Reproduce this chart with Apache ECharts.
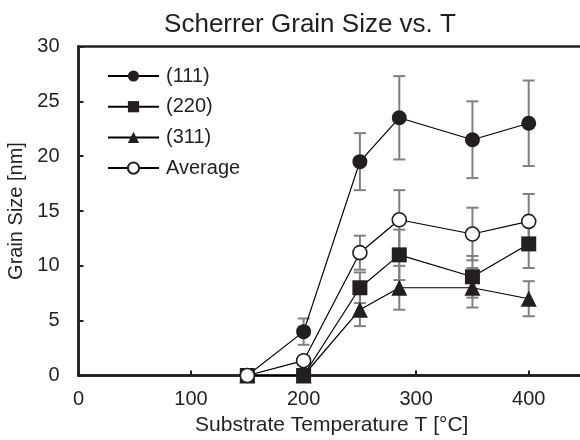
<!DOCTYPE html>
<html>
<head>
<meta charset="utf-8">
<script src="https://cdn.jsdelivr.net/npm/echarts@6/dist/echarts.min.js"></script>
<style>
  html, body { margin: 0; padding: 0; background: #fff; }
  #chart { width: 580px; height: 440px; }
</style>
</head>
<body>
<div id="chart"></div>
<script>
// Substrate temperatures (°C)
const temps = [150, 200, 250, 285, 350, 400];

// Scherrer grain sizes (nm) per reflection and their average
const size111 = [0, 4, 19.5, 23.5, 21.5, 23];
const size220 = [0, 0, 8, 11, 9, 12];
const size311 = [0, 0, 6, 8, 8, 7];
const sizeAvg = [0, 1.35, 11.2, 14.2, 12.9, 14.05];

// Standard deviations (nm)
const err111 = [0, 1.2, 2.6, 3.8, 3.5, 3.9];
const err220 = [0, 0, 1.4, 2.3, 1.9, 2.2];
const err311 = [0, 0, 1.5, 2.0, 1.8, 1.6];
const errAvg = [0, 0.4, 1.55, 2.7, 2.4, 2.5];

const seriesNames = ['(111)', '(220)', '(311)', 'Average'];

const font = 'Liberation Sans, Arial, sans-serif';
const ink = '#231f20';

function pairs(vals) {
  return temps.map((t, i) => [t, vals[i]]);
}
function errData(vals, errs) {
  return temps.map((t, i) => [t, vals[i] - errs[i], vals[i] + errs[i]]);
}

function errorSeries(vals, errs) {
  return {
    type: 'custom',
    silent: true,
    z: 1,
    data: errData(vals, errs),
    renderItem: function (params, api) {
      const x = api.value(0);
      const lo = api.coord([x, api.value(1)]);
      const hi = api.coord([x, api.value(2)]);
      if (Math.abs(hi[1] - lo[1]) < 0.5) return null;
      const w = 6;
      const style = { stroke: '#808080', lineWidth: 2 };
      return {
        type: 'group',
        children: [
          { type: 'line', shape: { x1: lo[0], y1: lo[1], x2: hi[0], y2: hi[1] }, style },
          { type: 'line', shape: { x1: lo[0] - w, y1: lo[1], x2: lo[0] + w, y2: lo[1] }, style },
          { type: 'line', shape: { x1: hi[0] - w, y1: hi[1], x2: hi[0] + w, y2: hi[1] }, style }
        ]
      };
    }
  };
}

function lineSeries(name, vals, symbol, size, fill) {
  return {
    name: name,
    type: 'line',
    z: 3,
    data: pairs(vals),
    symbol: symbol,
    symbolSize: size,
    showAllSymbol: true,
    lineStyle: { color: '#000', width: 1.2 },
    itemStyle: { color: fill, borderColor: ink, borderWidth: fill === '#fff' ? 1.6 : 0 },
    emphasis: { disabled: true }
  };
}

const chart = echarts.init(document.getElementById('chart'), null, { renderer: 'canvas' });

chart.setOption({
  animation: false,
  backgroundColor: '#fff',
  title: {
    text: 'Scherrer Grain Size vs. T',
    left: 305,
    textAlign: 'center',
    top: 7,
    textStyle: { fontFamily: font, fontSize: 26, fontWeight: 'normal', color: ink }
  },
  legend: {
    data: seriesNames,
    orient: 'vertical',
    left: 107,
    top: 66,
    padding: 0,
    itemWidth: 51,
    itemHeight: 14,
    itemGap: 10.7,
    textStyle: { fontFamily: font, fontSize: 20, color: ink, padding: [0, 0, 0, 2] }
  },
  grid: {
    left: 78.5,
    right: -5,
    top: 46.5,
    bottom: 64.5,
    outerBoundsMode: 'none',
    containLabel: false,
    show: true,
    borderColor: ink,
    borderWidth: 2.5,
    backgroundColor: 'transparent'
  },
  xAxis: {
    type: 'value',
    min: 0,
    max: 450,
    interval: 100,
    name: 'Substrate Temperature T [°C]',
    nameLocation: 'middle',
    nameGap: 37,
    nameTextStyle: { fontFamily: font, fontSize: 21, color: ink },
    axisLine: { show: true, lineStyle: { color: ink, width: 2.5 } },
    axisTick: { show: true, inside: true, length: 5, lineStyle: { color: ink, width: 2 } },
    axisLabel: { fontFamily: font, fontSize: 20, color: ink, margin: 14, showMaxLabel: false },
    splitLine: { show: false }
  },
  yAxis: {
    type: 'value',
    min: 0,
    max: 30,
    interval: 5,
    name: 'Grain Size [nm]',
    nameLocation: 'middle',
    nameGap: 50,
    nameRotate: 90,
    nameTextStyle: { fontFamily: font, fontSize: 20, color: ink },
    axisLine: { show: true, lineStyle: { color: ink, width: 2.5 } },
    axisTick: { show: true, inside: true, length: 5, lineStyle: { color: ink, width: 2 } },
    axisLabel: { fontFamily: font, fontSize: 20, color: ink, margin: 19 },
    splitLine: { show: false }
  },
  series: [
    errorSeries(size111, err111),
    errorSeries(size220, err220),
    errorSeries(size311, err311),
    errorSeries(sizeAvg, errAvg),
    lineSeries('(111)', size111, 'circle', 15, ink),
    lineSeries('(220)', size220, 'rect', 15, ink),
    lineSeries('(311)', size311, 'triangle', 16, ink),
    lineSeries('Average', sizeAvg, 'circle', 14, '#fff')
  ]
});
</script>
</body>
</html>
